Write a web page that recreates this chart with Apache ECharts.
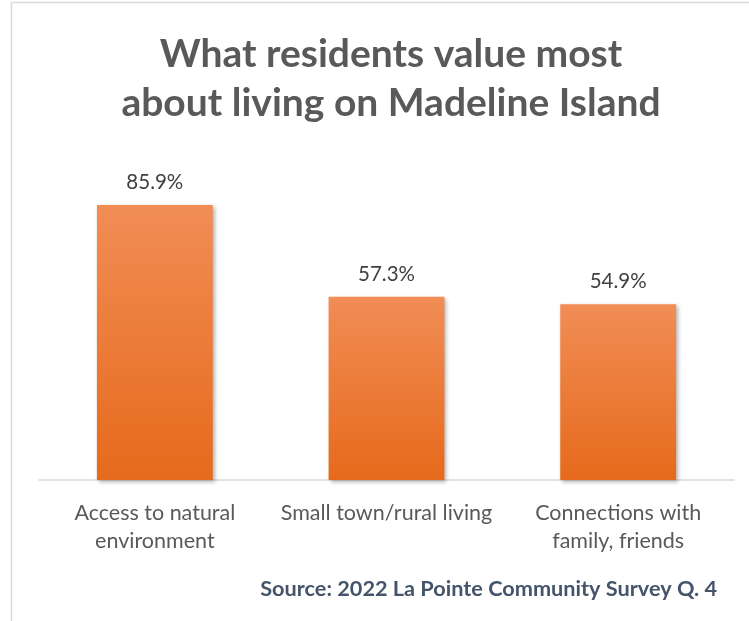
<!DOCTYPE html>
<html>
<head>
<meta charset="utf-8">
<script src="https://cdn.jsdelivr.net/npm/echarts@6/dist/echarts.min.js"></script>
<style>
  html, body { margin: 0; padding: 0; background: #ffffff; }
  #chart { width: 749px; height: 621px; }
</style>
</head>
<body>
<div id="chart"></div>
<script>
// Survey answers and their share of respondents (%)
const categories = [
  'Access to natural\nenvironment',
  'Small town/rural living',
  'Connections with\nfamily, friends'
];
const shares = [85.9, 57.3, 54.9];

const titleLines = ['What residents value most', 'about living on Madeline Island'];
const sourceNote = 'Source: 2022 La Pointe Community Survey Q. 4';

const FONT = 'Lato, "Open Sans", sans-serif';

const chart = echarts.init(document.getElementById('chart'), null, { renderer: 'canvas' });

chart.setOption({
  backgroundColor: '#ffffff',
  animation: false,
  title: {
    text: titleLines.join('\n'),
    left: 386,
    textAlign: 'center',
    top: 25,
    textStyle: {
      fontFamily: FONT,
      fontWeight: 'bold',
      fontSize: 39,
      lineHeight: 49,
      color: '#595959'
    }
  },
  graphic: [
    {
      type: 'rect',
      shape: { x: 11.5, y: 2.5, width: 800, height: 700 },
      style: { fill: 'none', stroke: '#d9d9d9', lineWidth: 1.5 },
      silent: true
    },
    {
      type: 'text',
      right: 32,
      top: 578,
      style: {
        text: sourceNote,
        fontFamily: FONT,
        fontWeight: 'bold',
        fontSize: 21.7,
        fill: '#44546a'
      }
    }
  ],
  grid: { left: 39, right: 15, top: 160, bottom: 141 },
  xAxis: {
    type: 'category',
    data: categories,
    axisLine: { lineStyle: { color: '#d9d9d9', width: 1.5 } },
    axisTick: { show: false },
    axisLabel: {
      interval: 0,
      margin: 19,
      fontFamily: FONT,
      fontSize: 21.5,
      lineHeight: 28,
      color: '#595959'
    }
  },
  yAxis: {
    type: 'value',
    min: 0,
    max: 100,
    show: false,
    splitLine: { show: false }
  },
  series: [{
    type: 'bar',
    data: shares,
    barWidth: '50%',
    itemStyle: {
      color: new echarts.graphic.LinearGradient(0, 0, 0, 1, [
        { offset: 0, color: '#f18d55' },
        { offset: 1, color: '#e66a1c' }
      ]),
      shadowColor: 'rgba(0,0,0,0.3)',
      shadowBlur: 4,
      shadowOffsetX: 2,
      shadowOffsetY: 2
    },
    label: {
      show: true,
      position: 'top',
      distance: 12,
      formatter: p => p.value.toFixed(1) + '%',
      fontFamily: FONT,
      fontSize: 20.5,
      color: '#404040'
    }
  }]
});
</script>
</body>
</html>
